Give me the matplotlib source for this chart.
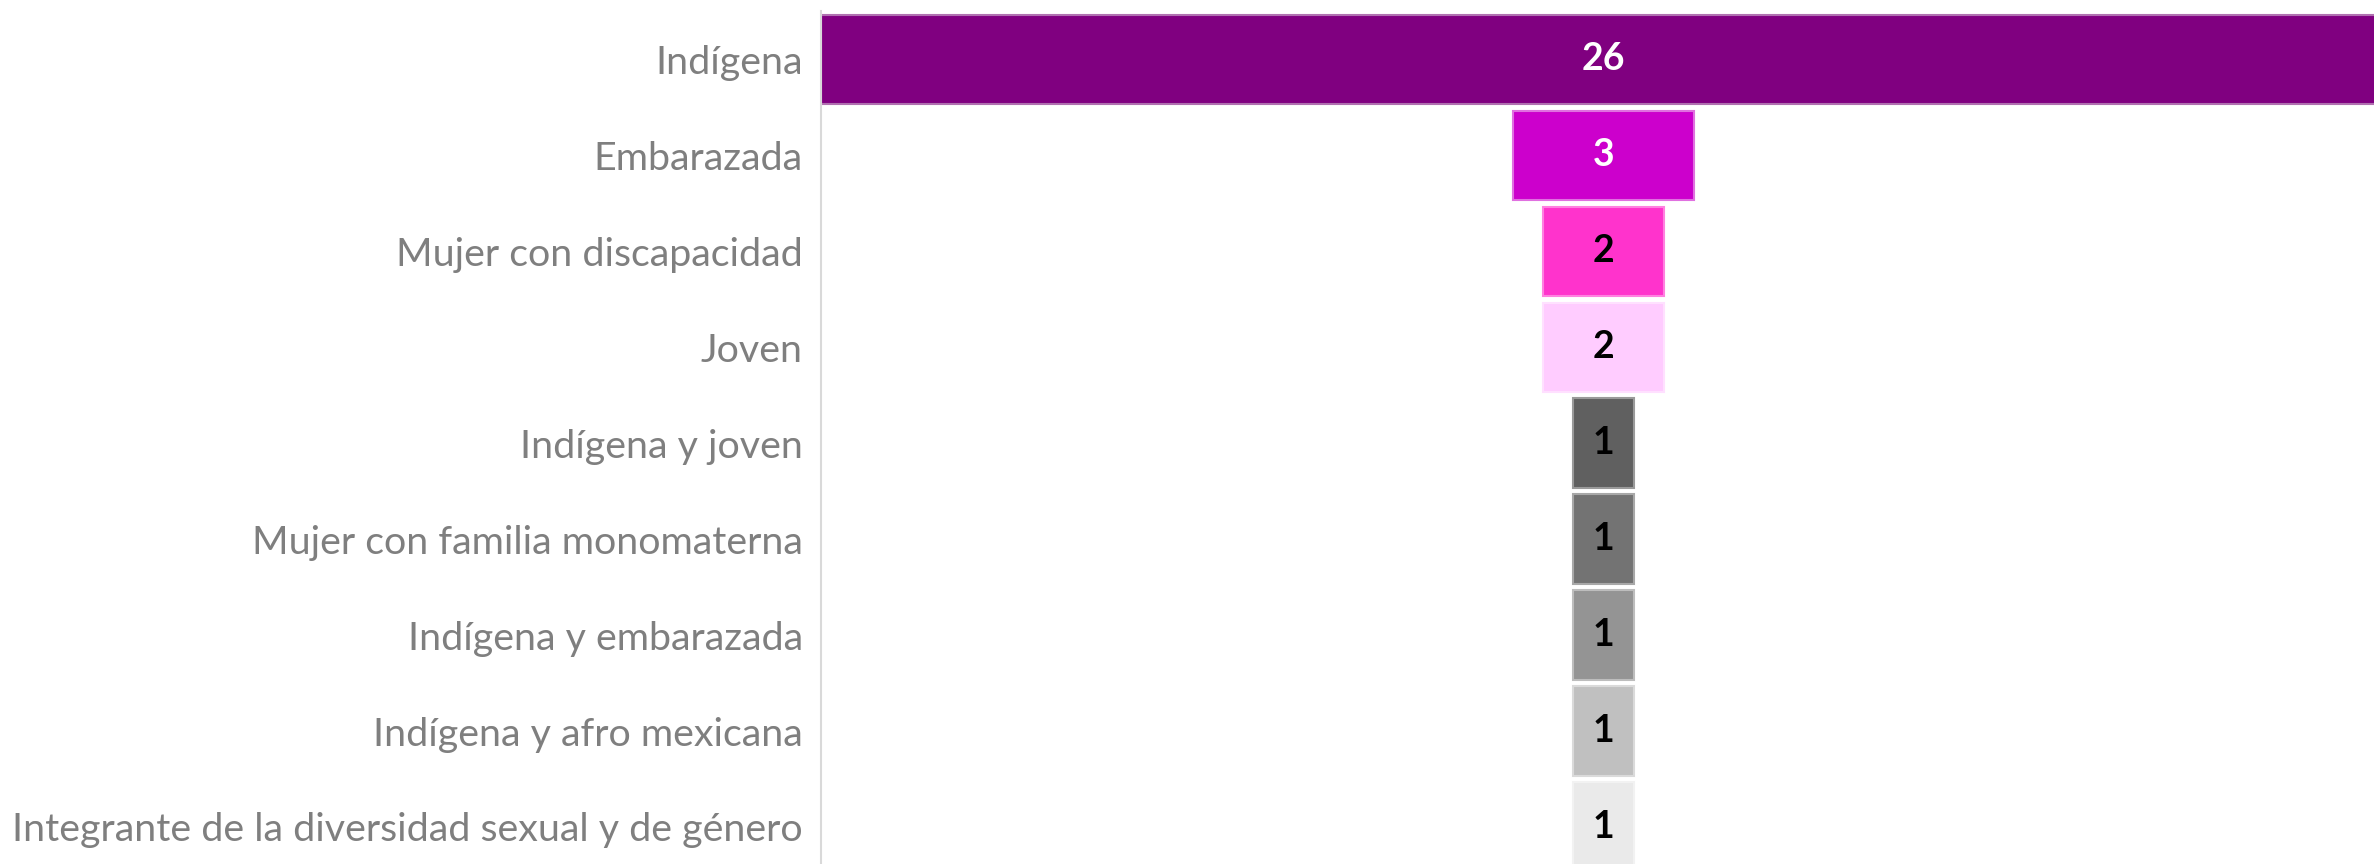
import matplotlib
matplotlib.use("Agg")
import matplotlib.pyplot as plt

# datos
categorias = ["Indígena", "Embarazada", "Mujer con discapacidad", "Joven",
              "Indígena y joven", "Mujer con familia monomaterna",
              "Indígena y embarazada", "Indígena y afro mexicana",
              "Integrante de la diversidad sexual y de género"]
valores = [26, 3, 2, 2, 1, 1, 1, 1, 1]
colores = ["#800080", "#CC00CC", "#FF33CC", "#FFCCFF",
           "#606060", "#737373", "#949494", "#C0C0C0", "#EAEAEA"]
bordes = ["#B070B0", "#E070E0", "#FF80E0", "#FFE0FF",
          "#9A9A9A", "#A8A8A8", "#BDBDBD", "#DADADA", "#F2F2F2"]
color_texto = ["white", "white", "black", "black",
               "black", "black", "black", "black", "black"]

plt.rcParams['font.family'] = ['Lato', 'DejaVu Sans']

fig = plt.figure(figsize=(23.74, 8.64), dpi=100)
ax = fig.add_axes([0.3458, -0.0127, 0.6542, 0.9997])

y = list(range(len(categorias)))
izq = [-v / 2 for v in valores]
ax.barh(y, valores, left=izq, height=0.93, color=colores,
        edgecolor=bordes, linewidth=1.5)

for i, v in enumerate(valores):
    ax.text(0, i, str(v), ha='center', va='center', fontsize=27,
            fontweight='bold', color=color_texto[i])

ax.set_xlim(-13, 12.8)
ax.set_ylim(8.5, -0.5)
ax.set_yticks(y)
ax.set_yticklabels(categorias, fontsize=28.4, color="#7F7F7F")
ax.tick_params(axis='y', length=0, pad=13)
ax.set_xticks([])
for s in ['top', 'right', 'bottom']:
    ax.spines[s].set_visible(False)
ax.spines['left'].set_color("#D9D9D9")
ax.spines['left'].set_linewidth(1.5)

fig.savefig("out.png", dpi=100)
